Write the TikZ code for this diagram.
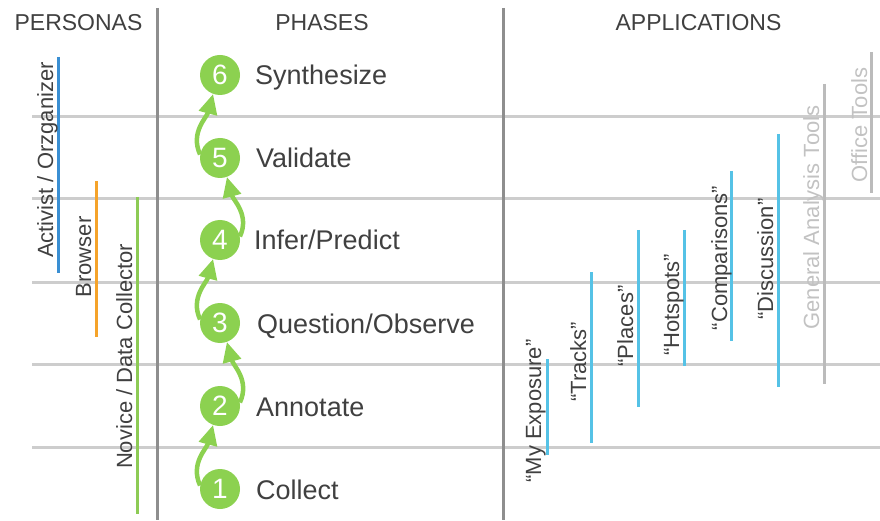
\documentclass[tikz,border=0pt]{standalone}
\usepackage{fontspec}
\setmainfont{Liberation Sans}
\usetikzlibrary{arrows.meta}
\definecolor{phgreen}{HTML}{8CD150}
\definecolor{txt}{HTML}{404040}
\definecolor{hline}{HTML}{CDCDCD}
\definecolor{vline}{HTML}{8E8E8E}
\definecolor{pblue}{HTML}{3A8FD3}
\definecolor{porange}{HTML}{F5A32A}
\definecolor{pgreen}{HTML}{8DCB55}
\definecolor{acyan}{HTML}{55C2E6}
\definecolor{agray}{HTML}{BBBBBB}
\definecolor{agraytxt}{HTML}{C2C2C2}
\begin{document}
\begin{tikzpicture}[x=1pt,y=1pt,
  hdr/.style={font=\fontsize{23}{26}\selectfont, text=txt, anchor=base, inner sep=0},
  phase/.style={circle, fill=phgreen, minimum size=40pt, inner sep=0, text=white, font=\fontsize{28}{30}\selectfont},
  plabel/.style={anchor=base west, inner sep=0, text=txt, font=\fontsize{27}{30}\selectfont},
  vlabel/.style={rotate=90, anchor=base, inner sep=0, text=txt, font=\fontsize{22}{24}\selectfont},
  bar/.style={line width=3pt},
  grid/.style={draw=hline, line width=3pt},
  divider/.style={draw=vline, line width=3pt},
  flow/.style={draw=phgreen, line width=4.5pt, -{Triangle[length=20pt,width=18pt]}},
]
\path[use as bounding box] (0,0) rectangle (880,520);
% horizontal grid lines
\foreach \yy in {403.5,321,238,155.5,73} \draw[grid] (32,\yy) -- (880,\yy);
% dividers
\draw[divider] (157,512) -- (157,0);
\draw[divider] (503,512) -- (503,0);
% headers
\node[hdr] (hpers) at (78.5,489) {PERSONAS};
\node[hdr] (hphas) at (322,489) {PHASES};
\node[hdr] (happ) at (698.5,489) {APPLICATIONS};
% phases
\node[phase] (c6) at (220,445) {6};
\node[phase] (c5) at (220,362) {5};
\node[phase] (c4) at (220,280) {4};
\node[phase] (c3) at (220,197) {3};
\node[phase] (c2) at (220,114) {2};
\node[phase] (c1) at (220,31) {1};
\node[plabel] (l6) at (255,435) {Synthesize};
\node[plabel] (l5) at (256,352) {Validate};
\node[plabel] (l4) at (254,270) {Infer/Predict};
\node[plabel] (l3) at (257,187) {Question/Observe};
\node[plabel] (l2) at (256,104) {Annotate};
\node[plabel] (l1) at (256,21) {Collect};
\draw[flow] (c1.170) to[out=115,in=-105] (c2.-110);
\draw[flow] (c2.10) to[out=65,in=-75] (c3.-70);
\draw[flow] (c3.170) to[out=115,in=-105] (c4.-110);
\draw[flow] (c4.10) to[out=65,in=-75] (c5.-70);
\draw[flow] (c5.170) to[out=115,in=-105] (c6.-110);
% personas
\draw[bar, pblue] (58,463) -- (58,247);
\node[vlabel] (pact) at (53,360) {Activist / Orzganizer};
\draw[bar, porange] (96,339) -- (96,183);
\node[vlabel] (pbro) at (91,263) {Browser};
\draw[bar, pgreen] (137,323) -- (137,6);
\node[vlabel] (pnov) at (132,163.5) {Novice / Data Collector};
% applications
\draw[bar, acyan] (547,161) -- (547,65);
\node[vlabel] (amy) at (541,109) {“My Exposure”};
\draw[bar, acyan] (591,248) -- (591,77);
\node[vlabel] (atr) at (586,158) {“Tracks”};
\draw[bar, acyan] (638,290) -- (638,113);
\node[vlabel] (apl) at (633,194) {“Places”};
\draw[bar, acyan] (684,290) -- (684,154);
\node[vlabel] (aho) at (679,215) {“Hotspots”};
\draw[bar, acyan] (731,349) -- (731,179);
\node[vlabel] (aco) at (727,262) {“Comparisons”};
\draw[bar, acyan] (778,386) -- (778,133);
\node[vlabel] (adi) at (773,261) {“Discussion”};
\draw[bar, agray] (824,436) -- (824,136);
\node[vlabel, text=agraytxt] (agen) at (819,302.5) {General Analysis Tools};
\draw[bar, agray] (871,468) -- (871,327);
\node[vlabel, text=agraytxt] (aoff) at (867,395) {Office Tools};
\end{tikzpicture}
\end{document}
